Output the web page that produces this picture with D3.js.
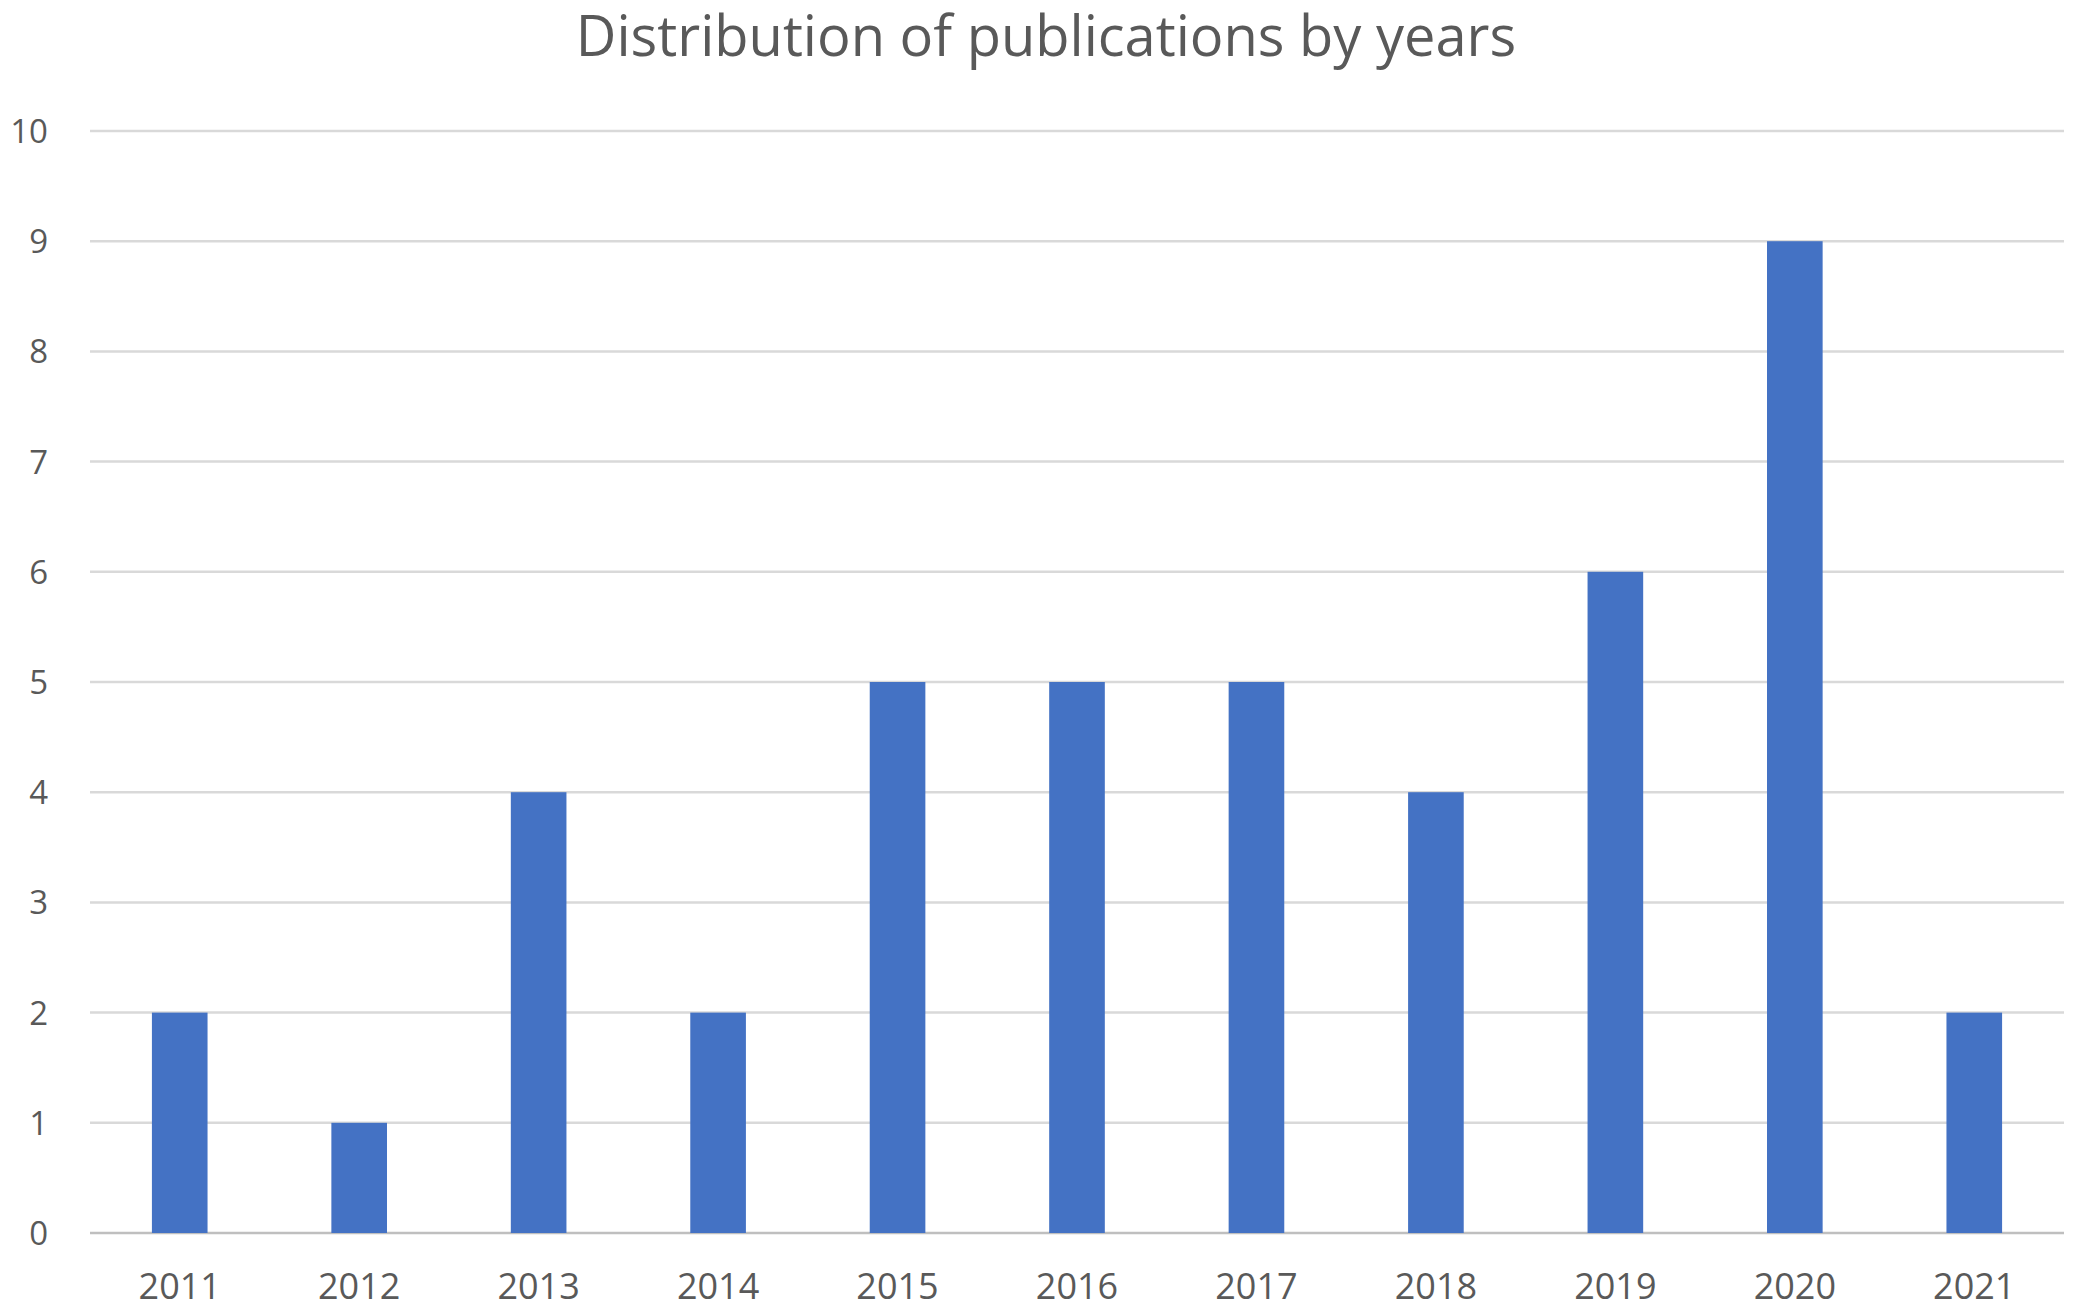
<!DOCTYPE html>
<html><head><meta charset="utf-8">
<script src="https://cdn.jsdelivr.net/npm/d3@7"></script>
<style>body{margin:0;background:#fff}text{font-family:"Open Sans","Noto Sans",sans-serif}</style>
</head><body><svg id="c" width="2075" height="1311"></svg>
<script>
const years = ["2011","2012","2013","2014","2015","2016","2017","2018","2019","2020","2021"];
const counts = [2,1,4,2,5,5,5,4,6,9,2];
const yTicks = [0,1,2,3,4,5,6,7,8,9,10];

const svg = d3.select("#c");
const L=90, R=2064, T=131, B=1233;
const x = d3.scaleBand().domain(years).range([L,R]).paddingInner(0.69).paddingOuter(0.345);
const y = d3.scaleLinear().domain([0,10]).range([B,T]);

svg.append("text").attr("x",1046).attr("y",56).attr("text-anchor","middle")
  .attr("font-size",56).attr("fill","#595959").text("Distribution of publications by years");

svg.append("g").selectAll("line").data(yTicks).join("line")
  .attr("x1",L).attr("x2",R).attr("y1",d=>y(d)).attr("y2",d=>y(d))
  .attr("stroke",d=>d===0?"#bfbfbf":"#d9d9d9").attr("stroke-width",2.5);

svg.append("g").selectAll("text").data(yTicks).join("text")
  .attr("x",48).attr("y",d=>y(d)+12).attr("text-anchor","end")
  .attr("font-size",33).attr("fill","#595959").text(d=>d);

svg.append("g").selectAll("rect").data(counts).join("rect")
  .attr("x",(d,i)=>x(years[i])).attr("width",x.bandwidth())
  .attr("y",d=>y(d)).attr("height",d=>B-y(d)).attr("fill","#4472c4");

svg.append("g").selectAll("text").data(years).join("text")
  .attr("x",d=>x(d)+x.bandwidth()/2).attr("y",1299).attr("text-anchor","middle")
  .attr("font-size",36).attr("fill","#595959").text(d=>d);
</script></body></html>
